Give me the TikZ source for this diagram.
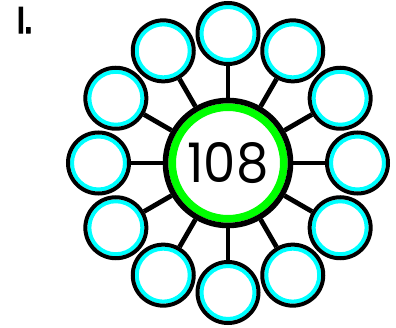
\documentclass[tikz,border=0pt]{standalone}
\usepackage{fontspec}
\setmainfont{Poppins}
\newfontfamily\labelfont{Liberation Sans}[UprightFont={* Bold}, FakeBold=2.5]
\usepackage{graphicx}
\definecolor{hubgreen}{RGB}{0,255,0}
\definecolor{ringcyan}{RGB}{0,255,255}
\tikzset{
  hub/.style={circle, draw=black, line width=5.6pt, fill=white, minimum size=125pt, inner sep=0pt,
    path picture={\draw[hubgreen, line width=7.7pt] (path picture bounding box.center) circle[radius=55.85pt];}},
  leaf/.style={circle, draw=black, line width=4pt, fill=white, minimum size=61pt, inner sep=0pt,
    path picture={\draw[ringcyan, line width=4pt] (path picture bounding box.center) circle[radius=26.5pt];}},
  spoke/.style={draw=black, line width=4.8pt},
  title/.style={anchor=north west, inner sep=0pt, font=\labelfont}
}
\begin{document}
\begin{tikzpicture}[x=1pt,y=-1pt]
  \useasboundingbox (0,0) rectangle (396,328);
  \node[title] (lbl) at (17,7) {\resizebox{15pt}{26pt}{I.}};
  \node[hub] (c) at (228,163) {\resizebox{81pt}{40pt}{108}};
  \foreach \i in {0,...,11} {
    \pgfmathsetmacro{\a}{\i*30}
    \node[leaf] (o\i) at ([shift={(\a:129.5pt)}]c.center) {};
    \draw[spoke] (c) -- (o\i);
  }
\end{tikzpicture}
\end{document}
